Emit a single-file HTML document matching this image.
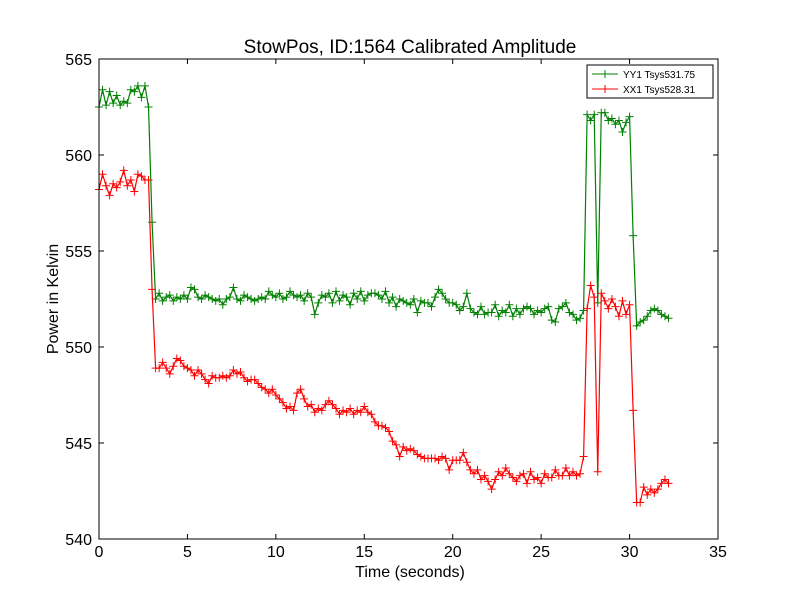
<!DOCTYPE html>
<html><head><meta charset="utf-8"><style>
body{margin:0;background:#fff;}
svg{display:block;font-family:"Liberation Sans","DejaVu Sans",sans-serif;}
</style></head><body>
<svg id="chart" width="800" height="600" viewBox="0 0 800 600" xmlns="http://www.w3.org/2000/svg">
<rect x="0" y="0" width="800" height="600" fill="#fff"/>
<text x="410" y="53" font-size="19" text-anchor="middle">StowPos, ID:1564 Calibrated Amplitude</text>
<g id="plot"></g>
<rect x="99" y="59" width="619" height="480" fill="none" stroke="#000" stroke-width="1"/>
<g id="axes"></g>
<text x="410" y="577" font-size="16" text-anchor="middle">Time (seconds)</text>
<text x="58" y="299" font-size="16" text-anchor="middle" transform="rotate(-90 58 299)">Power in Kelvin</text>
<g>
<rect x="587" y="65" width="126" height="33" fill="#fff" stroke="#000" stroke-width="1"/>
<g>
<line x1="592" y1="74" x2="618" y2="74" stroke="#008000"/><line x1="605" y1="70" x2="605" y2="78" stroke="#008000"/><line x1="601" y1="74" x2="609" y2="74" stroke="#008000"/>
<text x="623" y="78" font-size="10">YY1 Tsys531.75</text></g>
<g>
<line x1="592" y1="89" x2="618" y2="89" stroke="#ff0000"/><line x1="605" y1="85" x2="605" y2="93" stroke="#ff0000"/>
<text x="623" y="93" font-size="10">XX1 Tsys528.31</text></g>
</g>
</svg>
<script>
const xTicks=[0,5,10,15,20,25,30,35];
const yTicks=[540,545,550,555,560,565];
const t0=0, dt=0.2;
const yy1=[562.5,563.4,562.6,563.3,562.7,563.1,562.6,562.8,562.7,563.4,563.3,563.6,563.0,563.6,562.5,
556.5,
552.5,552.8,552.4,552.6,552.7,552.4,552.6,552.5,552.7,552.5,553.1,553.0,552.6,552.5,552.7,552.6,552.5,552.4,552.5,552.2,
552.5,552.6,553.1,552.5,552.4,552.7,552.6,552.5,552.4,552.5,552.6,552.5,552.9,552.7,552.6,552.8,552.5,552.6,552.9,552.7,
552.6,552.7,552.4,552.8,552.6,551.7,552.3,552.7,552.6,552.8,552.3,552.9,552.4,552.7,552.6,552.2,552.8,552.5,552.9,552.4,
552.7,552.8,552.8,552.7,552.5,552.9,552.3,552.6,552.1,552.5,552.4,552.3,552.2,552.5,551.8,552.4,552.3,552.3,552.1,552.6,
553.0,552.8,552.5,552.3,552.3,552.2,551.9,552.1,552.8,552.0,551.8,551.7,552.1,551.7,551.8,551.8,552.2,551.6,551.9,551.8,
552.2,551.6,552.0,551.7,552.0,552.1,552.0,551.7,551.9,551.8,552.0,552.1,551.4,551.3,552.0,552.1,552.3,551.8,551.7,551.4,551.5,551.9,
562.1,561.8,562.1,552.3,562.2,562.2,561.8,561.9,561.6,561.8,561.2,561.7,562.0,
555.8,551.1,551.3,551.4,551.6,551.9,552.0,551.9,551.7,551.6,551.5];
const xx1=[558.2,559.0,558.4,557.9,558.5,558.3,558.6,559.2,558.4,558.7,558.1,559.0,558.9,558.7,558.7,
553.0,
548.9,548.9,549.2,548.9,548.6,549.0,549.4,549.3,549.0,548.9,548.8,548.5,548.8,548.6,548.3,548.1,548.5,548.4,548.4,548.5,
548.4,548.5,548.8,548.6,548.7,548.4,548.2,548.3,548.3,548.1,547.9,547.8,547.6,547.8,547.5,547.3,547.1,546.8,546.9,546.7,
547.6,547.8,547.3,546.9,547.0,546.6,546.8,546.7,547.0,547.2,547.0,546.8,546.5,546.7,546.6,546.8,546.5,546.7,546.6,546.9,
546.6,546.5,546.1,545.9,545.9,545.8,545.6,545.1,544.9,544.3,544.8,544.6,544.7,544.6,544.4,544.3,544.2,544.2,544.2,544.2,
544.1,544.3,544.2,543.6,544.1,544.1,544.1,544.5,544.0,543.6,543.4,543.6,543.1,543.3,543.0,542.6,543.1,543.5,543.3,543.7,
543.4,543.2,543.0,543.3,543.4,542.9,543.5,543.1,543.2,542.9,543.4,543.2,543.2,543.6,543.3,543.3,543.7,543.3,543.5,543.3,543.4,544.3,
552.0,553.2,552.6,543.5,552.8,552.4,552.0,552.5,552.1,551.6,552.4,551.7,552.2,
546.7,541.9,541.9,542.7,542.3,542.6,542.4,542.6,542.9,543.1,542.9];
const NS='http://www.w3.org/2000/svg';
const X=v=>99+(v-0)/35*619, Y=v=>539-(v-540)/25*480;
function mk(tag,attrs,parent){const e=document.createElementNS(NS,tag);for(const k in attrs)e.setAttribute(k,attrs[k]);parent.appendChild(e);return e;}
const axes=document.getElementById('axes'), plot=document.getElementById('plot');
xTicks.forEach(v=>{const x=X(v);
const g=mk('g',{},axes);


mk('line',{x1:x,y1:539,x2:x,y2:534,stroke:'#000'},g);mk('line',{x1:x,y1:59,x2:x,y2:64,stroke:'#000'},g);
const t=mk('text',{x:x,y:557,'font-size':16,'text-anchor':'middle'},g);t.textContent=v;});
yTicks.forEach(v=>{const y=Y(v);
const g=mk('g',{},axes);


mk('line',{x1:99,y1:y,x2:104,y2:y,stroke:'#000'},g);mk('line',{x1:718,y1:y,x2:713,y2:y,stroke:'#000'},g);
const t=mk('text',{x:92,y:y+6,'font-size':16,'text-anchor':'end'},g);t.textContent=v;});
function series(vals,color,name){
const g=mk('g',{},plot);


const pts=vals.map((v,i)=>X(t0+i*dt).toFixed(2)+','+Y(v).toFixed(2)).join(' ');
mk('polyline',{points:pts,fill:'none',stroke:color,'stroke-width':1.2},g);
let d='';vals.forEach((v,i)=>{const x=X(t0+i*dt),y=Y(v);d+=`M${x-4},${y}h8M${x},${y-4}v8`;});
mk('path',{d:d,stroke:color,'stroke-width':1,fill:'none'},g);}
series(yy1,'#008000','series-yy1');
series(xx1,'#ff0000','series-xx1');
</script>
</body></html>
